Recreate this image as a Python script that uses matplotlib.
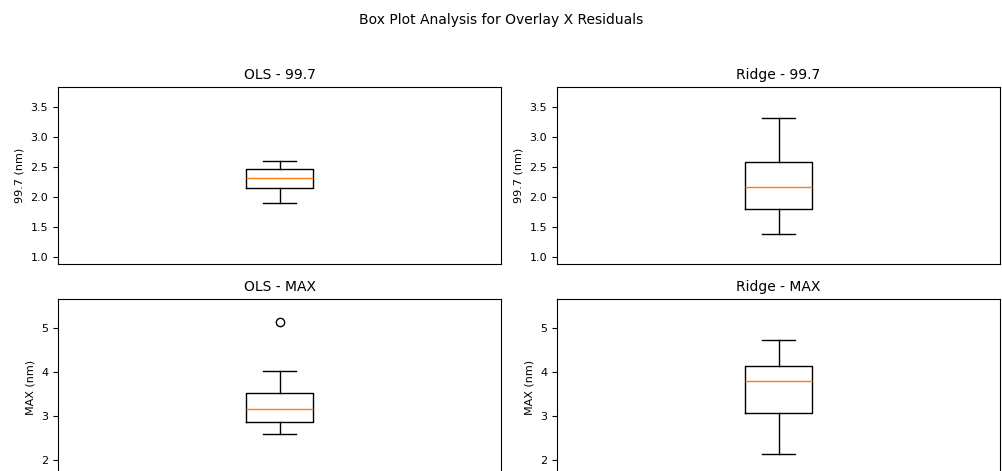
import matplotlib
matplotlib.use("Agg")
import matplotlib.pyplot as plt

# summary stats (nm)
models = ["OLS", "Ridge"]
metrics = ["99.7", "MAX"]

ols_997 = dict(whislo=1.91, q1=2.15, med=2.32, q3=2.47, whishi=2.60, fliers=[])
ridge_997 = dict(whislo=1.39, q1=1.81, med=2.17, q3=2.59, whishi=3.31, fliers=[])
ols_max = dict(whislo=2.58, q1=2.86, med=3.15, q3=3.52, whishi=4.02, fliers=[5.13])
ridge_max = dict(whislo=2.12, q1=3.06, med=3.79, q3=4.13, whishi=4.71, fliers=[])

stats = {
    ("OLS", "99.7"): ols_997,
    ("Ridge", "99.7"): ridge_997,
    ("OLS", "MAX"): ols_max,
    ("Ridge", "MAX"): ridge_max,
}
ylims = {"99.7": (0.89, 3.83), "MAX": (1.63, 5.65)}

fig = plt.figure(figsize=(10.02, 4.71), dpi=100)
fig.suptitle("Box Plot Analysis for Overlay X Residuals", y=0.972, fontsize=10)

W, H = 1002, 471
lefts = [58, 557]
tops = [87, 299]
aw, ah = 443, 177

for r, metric in enumerate(metrics):
    for c, model in enumerate(models):
        ax = fig.add_axes([lefts[c] / W, (H - tops[r] - ah) / H, aw / W, ah / H])
        ax.bxp([stats[(model, metric)]], positions=[1])
        ax.set_xlim(0.5, 1.5)
        ax.set_xticks([])
        ax.set_ylim(*ylims[metric])
        ax.set_title(f"{model} - {metric}", fontsize=10)
        ax.set_ylabel(f"{metric} (nm)", fontsize=8)
        ax.tick_params(labelsize=8)

fig.savefig("out.png", dpi=100)
